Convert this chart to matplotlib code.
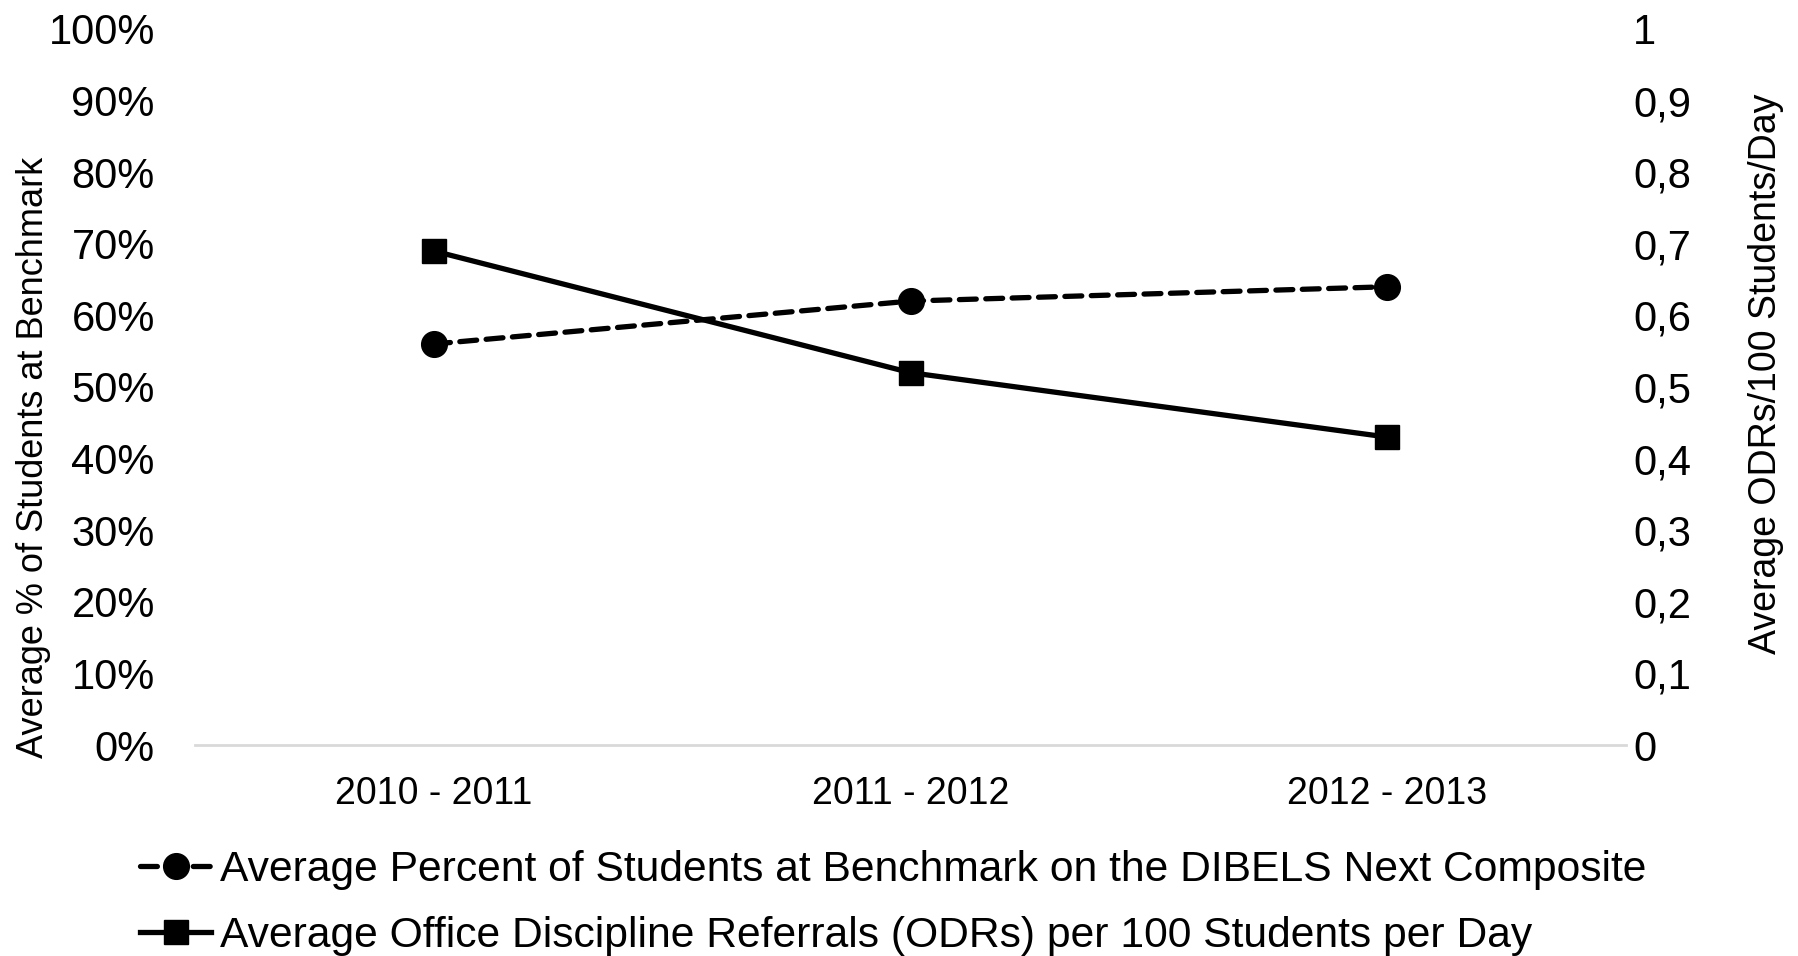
import matplotlib
matplotlib.use("Agg")
import matplotlib.pyplot as plt

years = ["2010 - 2011", "2011 - 2012", "2012 - 2013"]
pct_benchmark = [0.56, 0.62, 0.64]
odr_per_100 = [0.69, 0.52, 0.43]

left_ticks = [i / 10 for i in range(11)]
left_labels = ["%d%%" % (i * 10) for i in range(11)]
right_ticks = [i / 10 for i in range(11)]
right_labels = ["0"] + ["0,%d" % i for i in range(1, 10)] + ["1"]

plt.rcParams["font.family"] = ["Liberation Sans", "DejaVu Sans"]

fig = plt.figure(figsize=(17.98, 9.56), dpi=100)
ax = fig.add_axes([0.1085, 0.2207, 0.7958, 0.749])
ax2 = ax.twinx()

x = [1, 3, 5]
l1, = ax.plot(x, pct_benchmark, color="black", lw=3.8, ls=(0, (3.2, 1.8)),
              dash_capstyle="round", marker="o", markersize=18.5,
              label="Average Percent of Students at Benchmark on the DIBELS Next Composite")
l2, = ax2.plot(x, odr_per_100, color="black", lw=3.8, marker="s", markersize=17,
               label="Average Office Discipline Referrals (ODRs) per 100 Students per Day")

ax.set_xlim(0, 6)
ax.set_ylim(0, 1)
ax2.set_ylim(0, 1)
ax.set_xticks(x)
ax.set_xticklabels(years, fontsize=27)
ax.set_yticks(left_ticks)
ax.set_yticklabels(left_labels, fontsize=30)
ax2.set_yticks(right_ticks)
ax2.set_yticklabels(right_labels, fontsize=30)

for a in (ax, ax2):
    for s in a.spines.values():
        s.set_visible(False)
    a.tick_params(length=0)
ax.spines["bottom"].set_visible(True)
ax.spines["bottom"].set_color("#d9d9d9")
ax.spines["bottom"].set_linewidth(2)
ax.tick_params(axis="y", pad=29)
ax.tick_params(axis="x", pad=22)
ax2.tick_params(axis="y", pad=5)

ax.set_ylabel("Average % of Students at Benchmark", fontsize=26)
ax.yaxis.set_label_coords(-0.101, 0.402)
ax2.set_ylabel("Average ODRs/100 Students/Day", fontsize=27)
ax2.yaxis.set_label_coords(1.085, 0.518)

fig.legend(handles=[l1, l2], loc="upper left", bbox_to_anchor=(0.066, 0.133),
           frameon=False, fontsize=30.7, handlelength=1.67, handletextpad=0.2,
           labelspacing=0.6, borderpad=0)

fig.savefig("out.png", dpi=100)
